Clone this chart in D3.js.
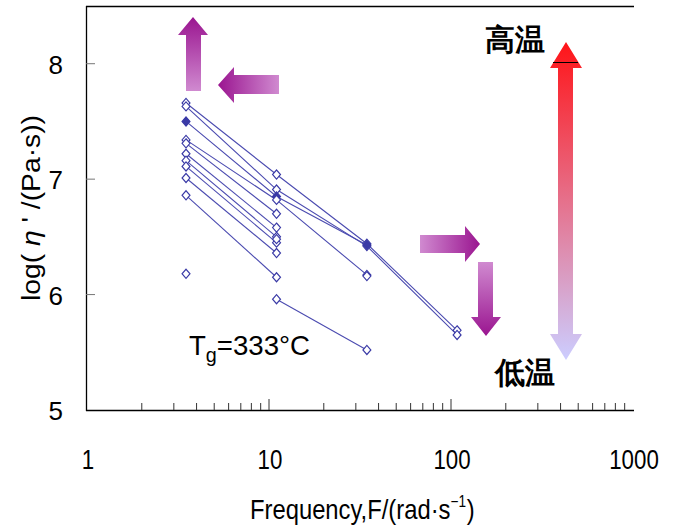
<!DOCTYPE html>
<html>
<head>
<meta charset="utf-8">
<script src="https://cdn.jsdelivr.net/npm/d3@7"></script>
<style>
  body { margin: 0; background: #fff; }
  text { font-family: "Liberation Sans", Arial, sans-serif; }
</style>
</head>
<body>
<script>
// frequencies (rad/s) where the viscosity was measured
const freqs = [3.5, 11, 34.5, 108]

// log(eta') for each curve, null = no point at that frequency
const curves = [
  [7.66, 7.04, 6.44, 5.69],
  [7.63, 6.91, 6.42, 5.65],
  [7.50, 6.85, 6.43, null],
  [7.34, 6.82, 6.17, null],
  [7.31, 6.70, null, null],
  [7.22, 6.58, null, null],
  [7.16, 6.50, null, null],
  [7.11, 6.45, null, null],
  [7.01, 6.36, null, null],
  [6.86, 6.15, null, null],
  [6.18, null, null, null],
  [null, 6.48, null, null],
  [null, 5.96, 5.52, null],
  [null, null, 6.16, null]
]
// curve drawn with filled markers
const filledCurve = 2

const yTicks = [5, 6, 7, 8]
const xTicks = [1, 10, 100, 1000]

const W = 676, H = 526

const x = d3.scaleLog().domain([1, 1000]).range([87, 633])
const y = d3.scaleLinear().domain([5, 8.5]).range([410, 6])

const svg = d3.select("body").append("svg")
  .attr("width", W)
  .attr("height", H)

const defs = svg.append("defs")
function grad(id, x1, y1, x2, y2, c1, c2) {
  const g = defs.append("linearGradient").attr("id", id)
    .attr("x1", x1).attr("y1", y1).attr("x2", x2).attr("y2", y2)
  g.append("stop").attr("offset", "0%").attr("stop-color", c1)
  g.append("stop").attr("offset", "100%").attr("stop-color", c2)
}
const dark = "#9a1590", light = "#d08ad0"
grad("gUp", 0, 1, 0, 0, light, dark)
grad("gLeft", 1, 0, 0, 0, light, dark)
grad("gRight", 0, 0, 1, 0, light, dark)
grad("gDown", 0, 0, 0, 1, light, dark)
grad("gTemp", 0, 0, 0, 1, "#ff1418", "#cccdff")

// frame: left, bottom, top
svg.append("line").attr("x1", 86.5).attr("x2", 86.5).attr("y1", 6).attr("y2", 411)
  .attr("stroke", "#000").attr("stroke-width", 1.3)
svg.append("line").attr("x1", 86).attr("x2", 634).attr("y1", 410.5).attr("y2", 410.5)
  .attr("stroke", "#000").attr("stroke-width", 1.3)
svg.append("line").attr("x1", 86).attr("x2", 634).attr("y1", 6.5).attr("y2", 6.5)
  .attr("stroke", "#000").attr("stroke-width", 1.3)

// x ticks (inside, pointing up)
const minor = []
for (let d = 1; d < 1000; d *= 10) {
  for (let k = 2; k <= 9; k++) minor.push(d * k)
}
svg.selectAll(".xminor").data(minor).enter().append("line")
  .attr("x1", d => x(d)).attr("x2", d => x(d))
  .attr("y1", 410).attr("y2", 403)
  .attr("stroke", "#333").attr("stroke-width", 1)
svg.selectAll(".xmajor").data([10, 100]).enter().append("line")
  .attr("x1", d => x(d)).attr("x2", d => x(d))
  .attr("y1", 410).attr("y2", 399)
  .attr("stroke", "#333").attr("stroke-width", 1)

svg.selectAll(".xlab").data(xTicks).enter().append("text")
  .attr("x", d => x(d) + 1)
  .attr("y", 469)
  .attr("text-anchor", "middle")
  .attr("font-size", 28)
  .attr("textLength", d => String(d).length * 12.4)
  .attr("lengthAdjust", "spacingAndGlyphs")
  .text(d => d)

// y ticks (inside, pointing right)
svg.selectAll(".ytick").data(yTicks.filter(d => d > 5)).enter().append("line")
  .attr("x1", 86).attr("x2", 95)
  .attr("y1", d => y(d)).attr("y2", d => y(d))
  .attr("stroke", "#777").attr("stroke-width", 1)

svg.selectAll(".ylab").data(yTicks).enter().append("text")
  .attr("x", 63)
  .attr("y", d => y(d) + 10)
  .attr("text-anchor", "end")
  .attr("font-size", 26)
  .text(d => d)

// axis titles
const yt = svg.append("text")
  .attr("transform", "translate(40,208) rotate(-90)")
  .attr("text-anchor", "middle")
  .attr("font-size", 26)
  .attr("textLength", 186)
  .attr("lengthAdjust", "spacingAndGlyphs")
yt.append("tspan").text("log( ")
yt.append("tspan").attr("font-style", "italic").text("η")
yt.append("tspan").text(" ' /(Pa·s))")

const xt = svg.append("text")
  .attr("transform", "translate(250,519) scale(0.85,1)")
  .attr("font-size", 28)
xt.append("tspan").text("Frequency,F/(rad·s")
xt.append("tspan").attr("dy", -12).attr("font-size", 16).text("−1")
xt.append("tspan").attr("dy", 12).attr("dx", 1).text(")")

// curves
const line = d3.line()
  .defined(d => d.v != null)
  .x(d => x(d.f)).y(d => y(d.v))

const series = curves.map((c, i) => ({
  i, pts: c.map((v, j) => ({ f: freqs[j], v }))
}))

svg.selectAll(".curve").data(series).enter().append("path")
  .attr("d", d => line(d.pts))
  .attr("fill", "none")
  .attr("stroke", "#4b4bb0")
  .attr("stroke-width", 1.1)

const diamond = d3.symbol().type(d3.symbolDiamond2).size(40)
series.forEach(s => {
  svg.selectAll(null).data(s.pts.filter(p => p.v != null)).enter().append("path")
    .attr("d", diamond)
    .attr("transform", p => `translate(${x(p.f)},${y(p.v)}) scale(1,1.15)`)
    .attr("fill", s.i === filledCurve ? "#3a3aa6" : "#fff")
    .attr("stroke", "#3a3aa6")
    .attr("stroke-width", 1.1)
})

// Tg label
const tg = svg.append("text").attr("x", 189).attr("y", 355).attr("font-size", 28)
  .attr("textLength", 121)
  .attr("lengthAdjust", "spacingAndGlyphs")
tg.append("tspan").text("T")
tg.append("tspan").attr("dy", 7).attr("font-size", 20).text("g")
tg.append("tspan").attr("dy", -7).text("=333°C")

// arrows
function arrowPath(pts) { return "M" + pts.map(p => p.join(",")).join("L") + "Z" }
// up arrow
svg.append("path").attr("fill", "url(#gUp)")
  .attr("d", arrowPath([[193, 17], [208, 35], [201, 35], [201, 91], [186, 91], [186, 35], [178, 35]]))
// left arrow
svg.append("path").attr("fill", "url(#gLeft)")
  .attr("d", arrowPath([[218, 85], [234, 67], [234, 75], [279, 75], [279, 94], [234, 94], [234, 103]]))
// right arrow
svg.append("path").attr("fill", "url(#gRight)")
  .attr("d", arrowPath([[480, 244], [465, 226], [465, 235], [420, 235], [420, 253], [465, 253], [465, 262]]))
// down arrow
svg.append("path").attr("fill", "url(#gDown)")
  .attr("d", arrowPath([[486, 336], [501, 317], [493, 317], [493, 262], [478, 262], [478, 317], [471, 317]]))
// temperature double arrow
svg.append("path").attr("fill", "url(#gTemp)")
  .attr("d", arrowPath([[566, 42], [582, 68], [573, 68], [573, 334], [582, 334], [566, 360],
    [550, 334], [558, 334], [558, 68], [550, 68]]))
svg.append("line").attr("x1", 553).attr("x2", 578).attr("y1", 62.5).attr("y2", 62.5)
  .attr("stroke", "#000").attr("stroke-width", 1)

svg.append("text").attr("x", 485).attr("y", 50)
  .attr("font-family", "'Noto Sans CJK JP'").attr("font-weight", "bold")
  .attr("font-size", 30).text("高温")
svg.append("text").attr("x", 495).attr("y", 383)
  .attr("font-family", "'Noto Sans CJK JP'").attr("font-weight", "bold")
  .attr("font-size", 30).text("低温")
</script>
</body>
</html>
